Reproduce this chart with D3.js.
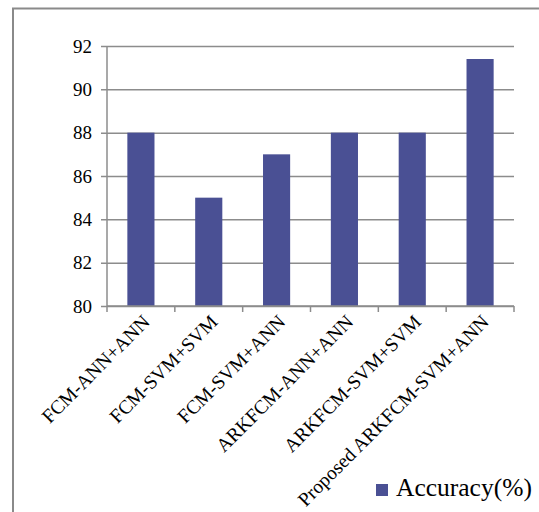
<!DOCTYPE html>
<html>
<head>
<meta charset="utf-8">
<script src="https://cdn.jsdelivr.net/npm/d3@7"></script>
<style>
  html, body { margin: 0; padding: 0; background: #fff; }
  svg { display: block; }
  text { font-family: "Liberation Serif", "Times New Roman", serif; fill: #000; }
</style>
</head>
<body>
<svg id="chart" width="539" height="512"></svg>
<script>
// Classification accuracy of each method
const categories = [
  "FCM-ANN+ANN",
  "FCM-SVM+SVM",
  "FCM-SVM+ANN",
  "ARKFCM-ANN+ANN",
  "ARKFCM-SVM+SVM",
  "Proposed ARKFCM-SVM+ANN"
];
const accuracy = [88, 85, 87, 88, 88, 91.4];
const yTicks = [80, 82, 84, 86, 88, 90, 92];
const seriesName = "Accuracy(%)";

const serif = "Liberation Serif, Times New Roman, serif";
const svg = d3.select("#chart");
const barColor = "#4a5094";
const gridColor = "#8c8c8c";

// outer chart frame
svg.append("path")
  .attr("d", "M13,520 L13,8.5 L545,8.5")
  .attr("fill", "none")
  .attr("stroke", "#8a8a8a")
  .attr("stroke-width", 2);

const plot = { left: 107, right: 514, top: 46, bottom: 306 };

const x = d3.scaleBand()
  .domain(categories)
  .range([plot.left, plot.right])
  .paddingInner(0.6)
  .paddingOuter(0.3);

const y = d3.scaleLinear()
  .domain([80, 92])
  .range([plot.bottom, plot.top]);

// horizontal gridlines with left ticks
const yAxis = svg.append("g")
  .attr("transform", `translate(${plot.left},0)`)
  .call(d3.axisLeft(y)
    .tickValues(yTicks)
    .tickSize(-(plot.right - plot.left))
    .tickSizeOuter(0)
    .tickPadding(15)
    .tickFormat(d3.format("d")))
  .attr("font-family", serif)
  .attr("font-size", 19);
yAxis.select(".domain").remove();
yAxis.selectAll(".tick line")
  .attr("x1", -6)
  .attr("stroke", gridColor)
  .attr("stroke-width", 1.5);
yAxis.selectAll(".tick text")
  .style("font-size", "19px")
  .style("font-family", serif);

// vertical value axis line
svg.append("line")
  .attr("x1", plot.left).attr("x2", plot.left)
  .attr("y1", plot.top).attr("y2", plot.bottom)
  .attr("stroke", gridColor)
  .attr("stroke-width", 1.5);

// bars
svg.append("g")
  .selectAll("rect")
  .data(categories)
  .join("rect")
  .attr("x", d => x(d))
  .attr("width", x.bandwidth())
  .attr("y", (d, i) => y(accuracy[i]))
  .attr("height", (d, i) => y(80) - y(accuracy[i]))
  .attr("fill", barColor);

// category axis with boundary ticks
const boundaries = d3.range(categories.length + 1).map(i => plot.left + i * (plot.right - plot.left) / categories.length);
svg.append("line")
  .attr("x1", plot.left).attr("x2", plot.right)
  .attr("y1", plot.bottom).attr("y2", plot.bottom)
  .attr("stroke", gridColor)
  .attr("stroke-width", 1.5);
svg.append("g")
  .selectAll("line")
  .data(boundaries)
  .join("line")
  .attr("x1", d => d).attr("x2", d => d)
  .attr("y1", plot.bottom).attr("y2", plot.bottom + 6)
  .attr("stroke", gridColor)
  .attr("stroke-width", 1.5);

// rotated category labels
svg.append("g")
  .selectAll("text")
  .data(categories)
  .join("text")
  .attr("text-anchor", "end")
  .attr("transform", d => `translate(${x(d) + x.bandwidth() / 2 + 10},${plot.bottom + 17}) rotate(-45)`)
  .style("font-size", "19.5px")
  .style("font-family", serif)
  .text(d => d);

// legend
const legend = svg.append("g").attr("transform", "translate(376,484)");
legend.append("rect")
  .attr("width", 12).attr("height", 12)
  .attr("fill", barColor);
legend.append("text")
  .attr("x", 20).attr("y", 12)
  .style("font-size", "25.5px")
  .style("font-family", serif)
  .text(seriesName);
</script>
</body>
</html>
